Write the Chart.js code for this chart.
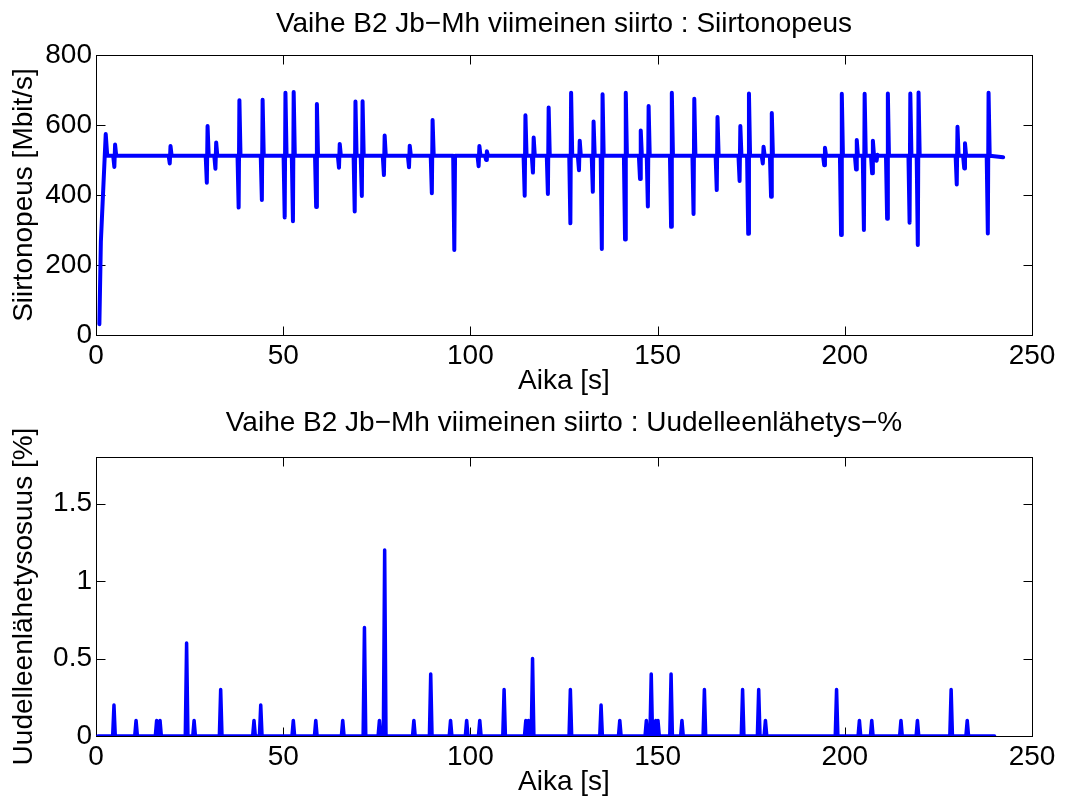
<!DOCTYPE html>
<html>
<head>
<meta charset="utf-8">
<title>Vaihe B2 Jb−Mh viimeinen siirto</title>
<script src="https://cdn.jsdelivr.net/npm/chart.js"></script>
<style>
	body { margin: 0; background: #fff; }
	#wrap { position: relative; width: 1066px; height: 800px; }
	canvas { position: absolute; left: 0; }
	#rate-canvas { top: 0; }
	#resend-canvas { top: 400px; }
</style>
</head>
<body>
<div id="wrap">
	<canvas id="rate-canvas" width="1066" height="400"></canvas>
	<canvas id="resend-canvas" width="1066" height="400"></canvas>
</div>
<script>
// tick values
var timeTicks = [0, 50, 100, 150, 200, 250];
var rateTicks = [0, 200, 400, 600, 800];
var resendTicks = [0, 0.5, 1, 1.5];

// ramp-up at the start of the transfer [s], [Mbit/s]
var startTime = [0.9, 1.3, 2.6, 3.0];
var startRate = [31, 267, 574, 512];

// steady level and the dip / peak pairs around it
var baseRate = 512;
var spikeTime = [5.0, 19.8, 29.7, 32.0, 38.2, 44.4, 50.5, 52.7, 58.9, 65.0,
	69.2, 71.1, 77.0, 83.7, 89.8, 95.8, 102.3, 104.3, 114.6, 116.8,
	120.8, 126.8, 129.1, 132.8, 135.2, 141.4, 145.4, 147.5, 153.7, 159.7,
	165.9, 172.0, 174.3, 178.2, 180.4, 194.6, 199.1, 203.1, 205.2, 207.4,
	208.6, 211.4, 217.4, 219.6, 230.0, 232.0, 238.3];
var spikeLow = [480, 490, 435, 475, 364, 386, 336, 325, 366, 478,
	353, 397, 457, 479, 405, 243, 482, 500, 398, 464,
	403, 319, 471, 409, 246, 273, 446, 367, 309, 346,
	414, 440, 289, 490, 395, 485, 286, 473, 300, 462,
	498, 332, 321, 257, 430, 476, 290];
var spikeHigh = [544, 540, 597, 550, 671, 672, 692, 694, 660, 546,
	667, 668, 570, 541, 614, 512, 540, 525, 628, 564,
	650, 692, 555, 610, 688, 692, 584, 654, 692, 675,
	623, 597, 690, 538, 634, 535, 689, 557, 689, 555,
	515, 690, 690, 693, 595, 548, 692];
var endTime = 242.3;
var endRate = 508;

// retransmission share [%]
var resendTime = [4.8, 10.7, 16.2, 17.1, 24.2, 26.2, 33.3, 42.2, 44.0, 52.7,
	58.7, 65.9, 71.7, 75.7, 77.1, 84.9, 89.4, 94.7, 99.0, 102.5,
	109.0, 114.8, 115.5, 116.6, 126.7, 134.9, 139.9, 147.0, 148.3, 149.5,
	150.1, 153.6, 156.5, 162.5, 172.7, 177.0, 178.8, 197.8, 203.9, 207.2,
	215.0, 219.4, 228.4, 232.7];
var resendPct = [0.2, 0.1, 0.1, 0.1, 0.6, 0.1, 0.3, 0.1, 0.2, 0.1,
	0.1, 0.1, 0.7, 0.1, 1.2, 0.1, 0.4, 0.1, 0.1, 0.1,
	0.3, 0.1, 0.1, 0.5, 0.3, 0.2, 0.1, 0.1, 0.4, 0.1,
	0.1, 0.4, 0.1, 0.3, 0.3, 0.3, 0.1, 0.3, 0.1, 0.1,
	0.1, 0.1, 0.3, 0.1];
var resendStart = 0.5;
var resendEnd = 240;

var fontFamily = "'Liberation Sans', Arial, Helvetica, sans-serif";
Chart.defaults.font.family = fontFamily;
Chart.defaults.font.size = 28;
Chart.defaults.color = "#000";

/**
 * build the point lists from the arrays above
 */
var ratePoints = [];
for (var i = 0; i < startTime.length; i++) {
	ratePoints.push({ x : startTime[i], y : startRate[i] });
}
for (var i = 0; i < spikeTime.length; i++) {
	var t = spikeTime[i];
	ratePoints.push({ x : t - 0.4, y : baseRate });
	ratePoints.push({ x : t - 0.1, y : spikeLow[i] });
	ratePoints.push({ x : t + 0.1, y : spikeHigh[i] });
	ratePoints.push({ x : t + 0.4, y : baseRate });
}
ratePoints.push({ x : endTime, y : endRate });

var resendPoints = [{ x : resendStart, y : 0 }];
for (var i = 0; i < resendTime.length; i++) {
	var t = resendTime[i];
	resendPoints.push({ x : t - 0.35, y : 0 });
	resendPoints.push({ x : t, y : resendPct[i] });
	resendPoints.push({ x : t + 0.35, y : 0 });
}
resendPoints.push({ x : resendEnd, y : 0 });

// matlab style box with inward ticks
var axesBox = {
	id : "axesBox",
	beforeDatasetsDraw : function(chart) {
		var ctx = chart.ctx;
		var a = chart.chartArea;
		var xs = chart.scales.x;
		var ys = chart.scales.y;
		var l = Math.round(a.left) + 0.5, r = Math.round(a.right) + 0.5;
		var t = Math.round(a.top) + 0.5, b = Math.round(a.bottom) + 0.5;
		ctx.save();
		ctx.strokeStyle = "#000";
		ctx.lineWidth = 1;
		ctx.strokeRect(l, t, r - l, b - t);
		ctx.beginPath();
		xs.ticks.forEach(function(tk) {
			var px = Math.round(xs.getPixelForValue(tk.value)) + 0.5;
			ctx.moveTo(px, b); ctx.lineTo(px, b - 9);
			ctx.moveTo(px, t); ctx.lineTo(px, t + 9);
		});
		ys.ticks.forEach(function(tk) {
			var py = Math.round(ys.getPixelForValue(tk.value)) + 0.5;
			ctx.moveTo(l, py); ctx.lineTo(l + 9, py);
			ctx.moveTo(r, py); ctx.lineTo(r - 9, py);
		});
		ctx.stroke();
		ctx.restore();
	}
};

function makeOptions(titleText, yLabel, yMax, yTicks, titlePad, xHeight, xTitlePad) {
	return {
		responsive : false,
		animation : false,
		devicePixelRatio : 1,
		layout : { padding : { left : 0, right : 34, top : 0, bottom : 0 } },
		plugins : {
			legend : { display : false },
			tooltip : { enabled : false },
			title : {
				display : true,
				fullSize : false,
				text : titleText,
				color : "#000",
				font : { size : 28, weight : "normal", family : fontFamily, lineHeight : 1.2 },
				padding : titlePad
			}
		},
		scales : {
			x : {
				type : "linear",
				min : 0,
				max : 250,
				grid : { display : false, drawTicks : false },
				border : { display : false },
				afterBuildTicks : function(scale) {
					scale.ticks = timeTicks.map(function(v) { return { value : v }; });
				},
				afterFit : function(scale) { scale.height = xHeight; },
				ticks : { padding : 4, maxRotation : 0, autoSkip : false },
				title : { display : true, text : "Aika [s]", padding : { top : 0, bottom : xTitlePad } }
			},
			y : {
				type : "linear",
				min : 0,
				max : yMax,
				grid : { display : false, drawTicks : false },
				border : { display : false },
				afterBuildTicks : function(scale) {
					scale.ticks = yTicks.map(function(v) { return { value : v }; });
				},
				afterFit : function(scale) { scale.width = 96; },
				ticks : {
					padding : 4,
					autoSkip : false,
					callback : function(value) { return String(value); }
				},
				title : { display : true, text : yLabel, padding : { top : 7, bottom : 0 } }
			}
		}
	};
}

//get canvas
var rateCtx = document.getElementById("rate-canvas");
var resendCtx = document.getElementById("resend-canvas");

var rateChart = new Chart(rateCtx, {
	type : "line",
	data : {
		datasets : [{
			label : "Siirtonopeus",
			data : ratePoints,
			borderColor : "#0000ff",
			backgroundColor : "#0000ff",
			borderWidth : 4,
			pointRadius : 0,
			fill : false,
			tension : 0,
			borderJoinStyle : "round",
			borderCapStyle : "round"
		}]
	},
	options : makeOptions("Vaihe B2 Jb−Mh viimeinen siirto : Siirtonopeus",
		"Siirtonopeus [Mbit/s]", 800, rateTicks, { top : 7.5, bottom : 13.9 }, 65, 2.2),
	plugins : [axesBox]
});

var resendChart = new Chart(resendCtx, {
	type : "line",
	data : {
		datasets : [{
			label : "Uudelleenlähetys-%",
			data : resendPoints,
			borderColor : "#0000ff",
			backgroundColor : "#0000ff",
			borderWidth : 3.5,
			pointRadius : 0,
			fill : false,
			tension : 0,
			borderJoinStyle : "round",
			borderCapStyle : "round"
		}]
	},
	options : makeOptions("Vaihe B2 Jb−Mh viimeinen siirto : Uudelleenlähetys−%",
		"Uudelleenlähetysosuus [%]", 1.8, resendTicks, { top : 6.8, bottom : 16.6 }, 64, 1.2),
	plugins : [axesBox]
});
</script>
</body>
</html>
